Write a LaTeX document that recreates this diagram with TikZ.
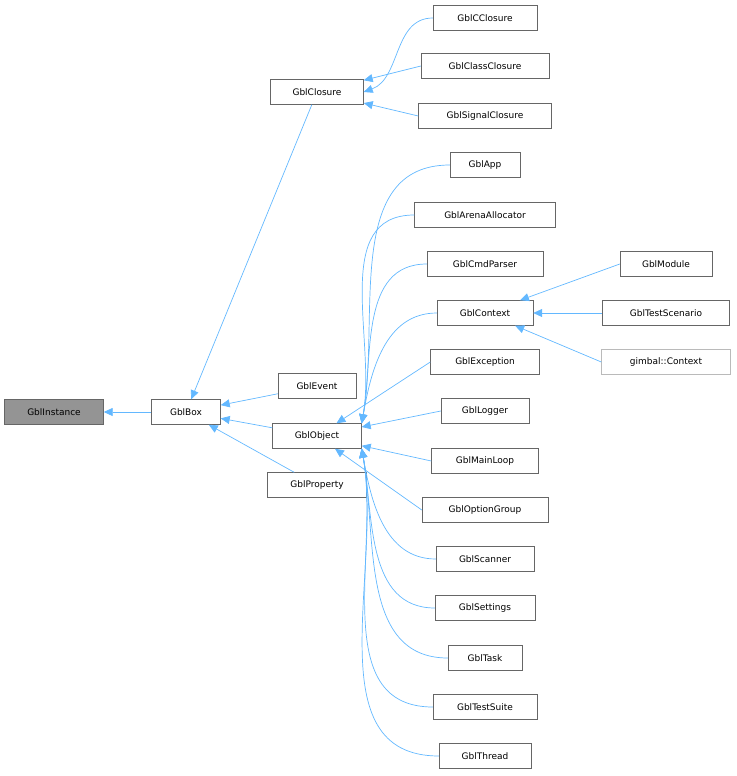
\documentclass[tikz,border=0pt]{standalone}
\usepackage{fontspec}
\setmainfont{DejaVu Sans}
\usetikzlibrary{arrows.meta}
\definecolor{edgeblue}{HTML}{63B8FF}
\definecolor{boxgrey}{HTML}{666666}
\begin{document}
\begin{tikzpicture}[x=1pt, y=-1pt,
    cls/.style={draw=boxgrey, fill=white, inner sep=0pt, minimum height=25pt, font=\fontsize{9}{10}\selectfont},
    edge/.style={{Triangle[length=9pt,width=8pt]}-, edgeblue, line width=0.7pt}]
    \useasboundingbox (0,0) rectangle (736,776);

    % root
    \node[cls, fill=boxgrey!70, minimum width=99pt] (inst) at (54,412) {GblInstance};
    \node[cls, minimum width=69pt] (box) at (186,412) {GblBox};

    % closures
    \node[cls, minimum width=93pt] (closure) at (317,92) {GblClosure};
    \node[cls, minimum width=104pt] (cclosure) at (485,18) {GblCClosure};
    \node[cls, minimum width=128pt] (classclosure) at (485,66) {GblClassClosure};
    \node[cls, minimum width=133pt] (signalclosure) at (485,116) {GblSignalClosure};

    % second column
    \node[cls, minimum width=78pt] (event) at (317,386) {GblEvent};
    \node[cls, minimum width=89pt] (object) at (317,436) {GblObject};
    \node[cls, minimum width=99pt] (property) at (317,485) {GblProperty};

    % object children
    \node[cls, minimum width=70pt] (app) at (485,165) {GblApp};
    \node[cls, minimum width=141pt] (arena) at (485,215) {GblArenaAllocator};
    \node[cls, minimum width=116pt] (cmdparser) at (485,264) {GblCmdParser};
    \node[cls, minimum width=96pt] (context) at (485,313) {GblContext};
    \node[cls, minimum width=109pt] (exception) at (485,362) {GblException};
    \node[cls, minimum width=88pt] (logger) at (485,411) {GblLogger};
    \node[cls, minimum width=107pt] (mainloop) at (485,461) {GblMainLoop};
    \node[cls, minimum width=126pt] (optiongroup) at (485,510) {GblOptionGroup};
    \node[cls, minimum width=98pt] (scanner) at (485,559) {GblScanner};
    \node[cls, minimum width=100pt] (settings) at (485,608) {GblSettings};
    \node[cls, minimum width=74pt] (task) at (485,658) {GblTask};
    \node[cls, minimum width=104pt] (testsuite) at (485,707) {GblTestSuite};
    \node[cls, minimum width=92pt] (thread) at (485,756) {GblThread};

    % context children
    \node[cls, minimum width=92pt] (module) at (666,264) {GblModule};
    \node[cls, minimum width=127pt] (testscenario) at (666,313) {GblTestScenario};
    \node[cls, draw=boxgrey!45, minimum width=129pt] (gimbalctx) at (666,362) {gimbal::Context};

    % inheritance
    \draw[edge] (inst) -- (box);
    \draw[edge] (box) -- (closure);
    \draw[edge] (box) -- (event);
    \draw[edge] (box) -- (object);
    \draw[edge] (box) -- (property);
    \draw[edge] (closure.east) to[out=20,in=180] (cclosure.west);
    \draw[edge] (closure) -- (classclosure.west);
    \draw[edge] (closure) -- (signalclosure.west);

    \foreach \c in {app,arena,cmdparser,context}
      \draw[edge] (object.north east) to[out=80,in=180] (\c.west);
    \foreach \c in {exception,logger,mainloop,optiongroup}
      \draw[edge] (object) -- (\c.west);
    \foreach \c in {scanner,settings,task,testsuite,thread}
      \draw[edge] (object.south east) to[out=-80,in=180] (\c.west);

    \draw[edge] (context) -- (module.west);
    \draw[edge] (context) -- (testscenario);
    \draw[edge] (context) -- (gimbalctx.west);
\end{tikzpicture}
\end{document}
